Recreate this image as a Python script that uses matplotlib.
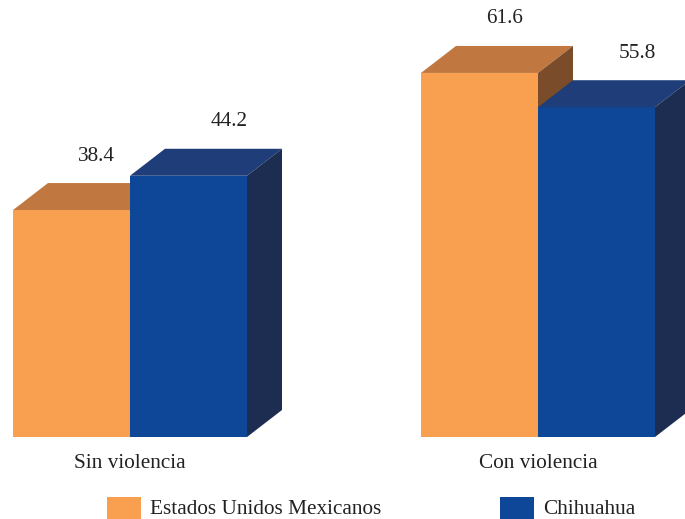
import matplotlib.pyplot as plt
from matplotlib.patches import Rectangle

categories = ['Sin violencia', 'Con violencia']
series = ['Estados Unidos Mexicanos', 'Chihuahua']
mexico = [38.4, 61.6]
chihuahua = [44.2, 55.8]

front = ['#F9A050', '#0E4797']
top = ['#C07840', '#1F3D78']
side = ['#7A4C2A', '#1D2D52']

plt.rcParams['font.family'] = ['Liberation Serif', 'DejaVu Serif']

# layout in pixels, values scaled so 1 unit = 5.91 px
base = 437
scale = 5.91
def py(p):
    return (base - p) / scale

fig = plt.figure(figsize=(6.85, 5.19), dpi=100)
ax = fig.add_axes([0, 0, 1, 1])
ax.set_xlim(0, 685)
ax.set_ylim(py(519), py(0))
ax.axis('off')

group_left = [13, 421]
w = 117
dx = 35
dy = 27 / scale
label_dx = [25, 41]
fs = 15.3

for g, cat in enumerate(categories):
    for s, vals in enumerate([mexico, chihuahua]):
        v = vals[g]
        x0 = group_left[g] + s * w
        x1 = x0 + w
        ax.fill([x0, x1, x1, x0], [0, 0, v, v], color=front[s], lw=0)
        ax.fill([x0, x0 + dx, x1 + dx, x1], [v, v + dy, v + dy, v], color=top[s], lw=0)
        ax.fill([x1, x1 + dx, x1 + dx, x1], [0, dy, v + dy, v], color=side[s], lw=0)
        ax.text(x0 + w / 2 + label_dx[s], v + 54 / scale, f'{v:.1f}',
                ha='center', va='center', fontsize=fs, color='#222222')
    ax.text(group_left[g] + w, py(463), cat, ha='center', va='center',
            fontsize=fs, color='#222222')

# legend
leg_x = [107, 500]
for s, name in enumerate(series):
    ax.add_patch(Rectangle((leg_x[s], py(519)), 34, 22 / scale, color=front[s], lw=0))
    ax.text(leg_x[s] + 43, py(509), name, ha='left', va='center',
            fontsize=fs, color='#222222')

fig.savefig('out.png', dpi=100)
